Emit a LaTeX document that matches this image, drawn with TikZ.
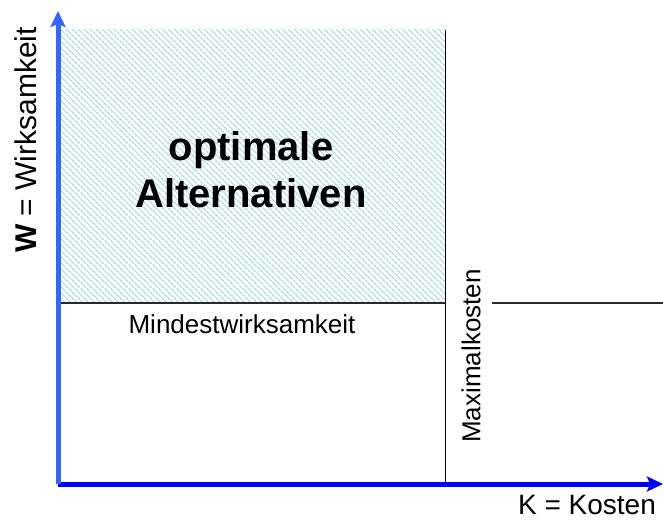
\documentclass[tikz,border=0pt]{standalone}
\usepackage{fontspec}
\setmainfont{Liberation Sans}
\usetikzlibrary{arrows.meta,patterns.meta}
\definecolor{yaxis}{RGB}{51,102,255}
\definecolor{xaxis}{RGB}{0,0,255}
\definecolor{hatch}{RGB}{172,221,226}
\definecolor{linegray}{RGB}{40,40,40}
\tikzset{
  axisline/.style={line width=5pt,-{Stealth[length=16pt,width=15pt,inset=3pt]}},
  refline/.style={draw=linegray,line width=1.4pt},
  vline/.style={draw=black,line width=1pt},
  lbl/.style={inner sep=0pt,font=\fontsize{26}{30}\selectfont},
  big/.style={inner sep=0pt,align=center,font=\fontsize{40}{47}\selectfont\bfseries},
}
\begin{document}
\begin{tikzpicture}[x=1pt,y=-1pt]
\useasboundingbox (0,0) rectangle (663,521);
\coordinate (o) at (58,484);
\coordinate (ytip) at (58,11);
\coordinate (xtip) at (663,484);
\coordinate (hTL) at (60,30);
\coordinate (hBR) at (445,303);
\coordinate (vtop) at (445,30);
\coordinate (vbot) at (445,484);
\coordinate (mL) at (58,303);
\coordinate (mR) at (445,303);
\coordinate (rL) at (492,303);
\coordinate (rR) at (663,303);
\fill[pattern={Lines[angle=-45,distance=4pt,line width=1.5pt]},pattern color=hatch] (hTL) rectangle (hBR);
\draw[refline] (mL) -- (mR);
\draw[refline] (rL) -- (rR);
\draw[vline] (vtop) -- (vbot);
\draw[axisline,draw=xaxis,fill=xaxis] (o) -- (xtip);
\draw[axisline,draw=yaxis,fill=yaxis] (o) -- (ytip);
\node[big] (opt) at (251,170) {optimale\\Alternativen};
\node[lbl] (mind) at (242,324) {Mindestwirksamkeit};
\node[lbl,rotate=90] (maxk) at (471,356) {Maximalkosten};
\node[lbl,rotate=90,font=\fontsize{30}{34}\selectfont] (wlab) at (26,140) {\textbf{W} = Wirksamkeit};
\node[lbl,font=\fontsize{28}{32}\selectfont] (klab) at (587,505) {K = Kosten};
\end{tikzpicture}
\end{document}
